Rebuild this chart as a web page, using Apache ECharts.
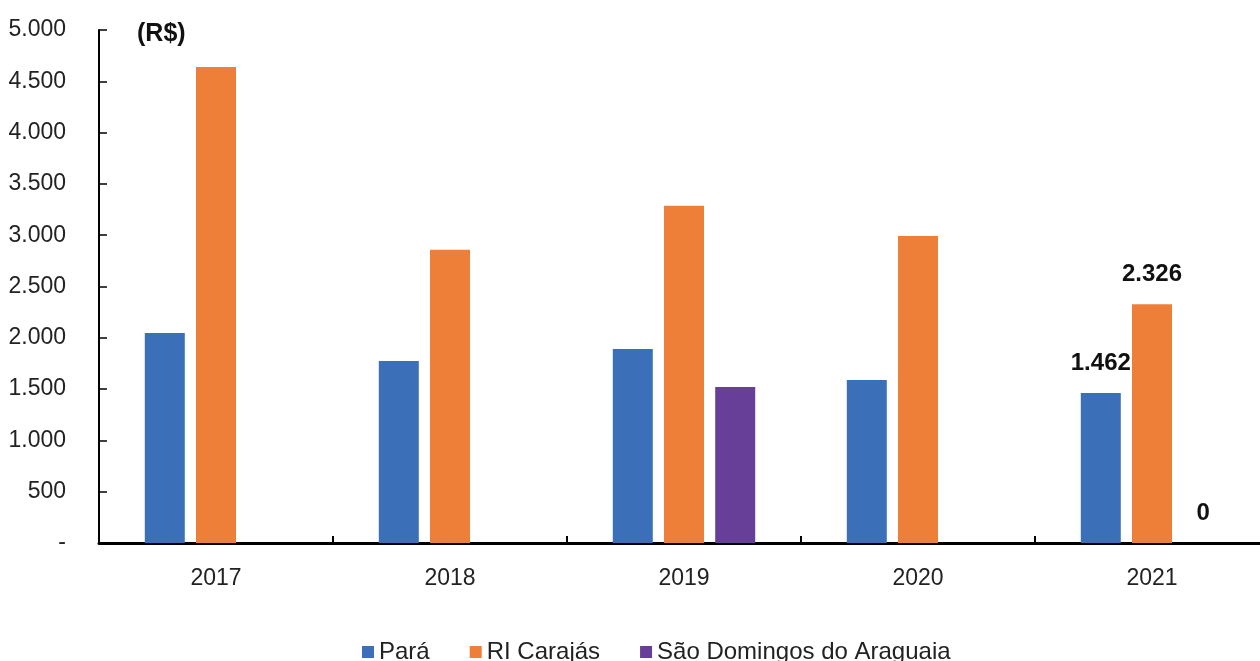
<!DOCTYPE html>
<html>
<head>
<meta charset="utf-8">
<script src="https://cdn.jsdelivr.net/npm/echarts@6/dist/echarts.min.js"></script>
<style>html,body{margin:0;padding:0;background:#fff;overflow:hidden;width:1260px;height:661px;}#c{width:1269px;height:661px;}</style>
</head>
<body>
<div id="c"></div>
<script>
const categories = ['2017', '2018', '2019', '2020', '2021'];
const seriesNames = ['Pará', 'RI Carajás', 'São Domingos do Araguaia'];
const para = [2047, 1775, 1892, 1589, 1462];
const carajas = [4640, 2858, 3287, 2993, 2326];
const saoDomingos = [null, null, 1520, null, 0];
const labelledIndex = 4;
const yTicks = { min: 0, max: 5000, interval: 500 };

const colors = ['#3b70b8', '#ee7f38', '#673f98'];
const font = 'Liberation Sans, Arial, sans-serif';

function dots(v) { return String(v).replace(/\B(?=(\d{3})+(?!\d))/g, '.'); }
function fmt(v) { return v === 0 ? '-' : dots(v); }
function withLabels(arr) {
  return arr.map((v, i) => {
    if (i === labelledIndex && v !== null) {
      return { value: v, label: { show: true, position: 'top', distance: 18, fontSize: 24, fontWeight: 'bold', color: '#111', fontFamily: font, formatter: p => dots(p.value) } };
    }
    return v;
  });
}

const chart = echarts.init(document.getElementById('c'));
chart.setOption({
  animation: false,
  backgroundColor: '#fff',
  color: colors,
  title: {
    text: '(R$)', left: 132, top: 17,
    textStyle: { fontSize: 25, fontWeight: 'bold', color: '#111', fontFamily: font }
  },
  legend: {
    data: seriesNames, left: 357, top: 635,
    icon: 'rect', itemWidth: 12, itemHeight: 12, itemGap: 40,
    textStyle: { fontSize: 24, color: '#222', fontFamily: font }
  },
  grid: { left: 99, top: 30, right: 0, bottom: 118, containLabel: false },
  xAxis: {
    type: 'category', data: categories,
    axisLine: { lineStyle: { color: '#000', width: 3 } },
    axisTick: { show: true, inside: true, length: 7, lineStyle: { color: '#000', width: 2 } },
    axisLabel: { fontSize: 23, color: '#222', margin: 24, fontFamily: font },
    splitLine: { show: false }
  },
  yAxis: {
    type: 'value', min: yTicks.min, max: yTicks.max, interval: yTicks.interval,
    axisLine: { show: true, lineStyle: { color: '#000', width: 2 } },
    axisTick: { show: true, inside: true, length: 8, lineStyle: { color: '#000', width: 1.5 } },
    axisLabel: { fontSize: 23, color: '#222', margin: 33, fontFamily: font, formatter: fmt },
    splitLine: { show: false }
  },
  series: [
    { name: seriesNames[0], type: 'bar', data: withLabels(para), barWidth: 40, barGap: '28%' },
    { name: seriesNames[1], type: 'bar', data: withLabels(carajas), barWidth: 40, barGap: '28%' },
    { name: seriesNames[2], type: 'bar', data: withLabels(saoDomingos), barWidth: 40, barGap: '28%' }
  ]
});
</script>
</body>
</html>
